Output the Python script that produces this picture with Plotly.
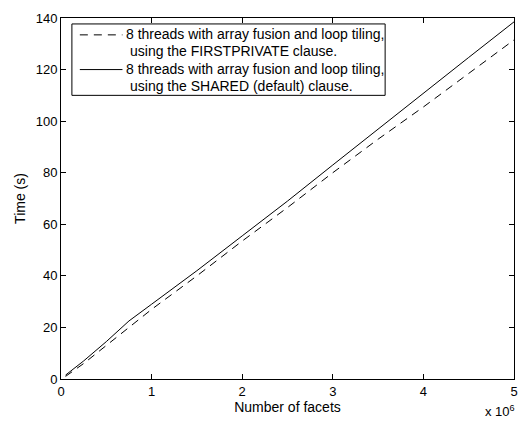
import plotly.graph_objects as go

facets_m = [0.05, 0.25, 0.5, 0.75, 1.0, 1.5, 2.0, 2.5, 3.0, 3.5, 4.0, 4.5, 5.0]
time_firstprivate = [1.0, 6.0, 13.0, 20.0, 27.0, 40.0, 53.5, 66.5, 80.0, 93.0, 105.5, 118.5, 131.5]
time_shared = [1.5, 7.0, 14.5, 22.5, 29.0, 42.0, 55.5, 69.0, 83.0, 97.0, 111.0, 124.7, 138.5]

legend_lines = [
    ["8 threads with array fusion and loop tiling,", "using the FIRSTPRIVATE clause."],
    ["8 threads with array fusion and loop tiling,", "using the SHARED (default) clause."],
]
dashes = ["8px,6px", "solid"]

# plot area in pixels (for placing the legend box in paper coordinates)
L, R, T, B = 61, 518, 15, 379
W, H = R - L, B - T
def px(x):
    return (x - L) / W
def py(y):
    return (B - y) / H

fig = go.Figure()
fig.add_trace(go.Scatter(x=facets_m, y=time_firstprivate, mode="lines", name=" ".join(legend_lines[0]),
                         line=dict(color="black", width=1, dash=dashes[0]), showlegend=False))
fig.add_trace(go.Scatter(x=facets_m, y=time_shared, mode="lines", name=" ".join(legend_lines[1]),
                         line=dict(color="black", width=1, dash=dashes[1]), showlegend=False))

axis_common = dict(showline=True, linecolor="black", linewidth=1, mirror="allticks",
                   ticks="inside", ticklen=5, tickcolor="black", showgrid=False,
                   zeroline=False, tickfont=dict(size=13, color="black"))

fig.update_layout(
    width=529, height=423,
    margin=dict(l=L, r=529 - R, t=T, b=423 - B),
    paper_bgcolor="white", plot_bgcolor="white",
    font=dict(family="Liberation Sans, Arial, sans-serif", size=13, color="black"),
    xaxis=dict(range=[0, 5], tickvals=[0, 1, 2, 3, 4, 5],
               title=dict(text="Number of facets", standoff=0, font=dict(size=14)), **axis_common),
    yaxis=dict(range=[0, 140], tickvals=[0, 20, 40, 60, 80, 100, 120, 140],
               title=dict(text="Time (s)", standoff=6, font=dict(size=14)), **axis_common),
    showlegend=False,
)

# legend box
fig.add_shape(type="rect", xref="paper", yref="paper", x0=px(72), x1=px(388), y0=py(93), y1=py(21),
              line=dict(color="black", width=1), fillcolor="white", layer="above")
for i, (lines, dash) in enumerate(zip(legend_lines, dashes)):
    yc = 31 + i * 35
    fig.add_shape(type="line", xref="paper", yref="paper", x0=px(80), x1=px(123), y0=py(yc + 1), y1=py(yc + 1),
                  line=dict(color="black", width=1, dash=dash), layer="above")
    fig.add_annotation(text=lines[0], xref="paper", yref="paper", x=px(125), y=py(yc),
                       xanchor="left", yanchor="middle", showarrow=False, font=dict(size=14))
    fig.add_annotation(text=lines[1], xref="paper", yref="paper", x=px(129), y=py(yc + 17.5),
                       xanchor="left", yanchor="middle", showarrow=False, font=dict(size=14))

fig.add_annotation(text="x 10<sup>6</sup>", xref="paper", yref="paper", x=px(521), y=py(401),
                   xanchor="right", yanchor="top", showarrow=False, font=dict(size=13))
fig.write_html("out.html")
